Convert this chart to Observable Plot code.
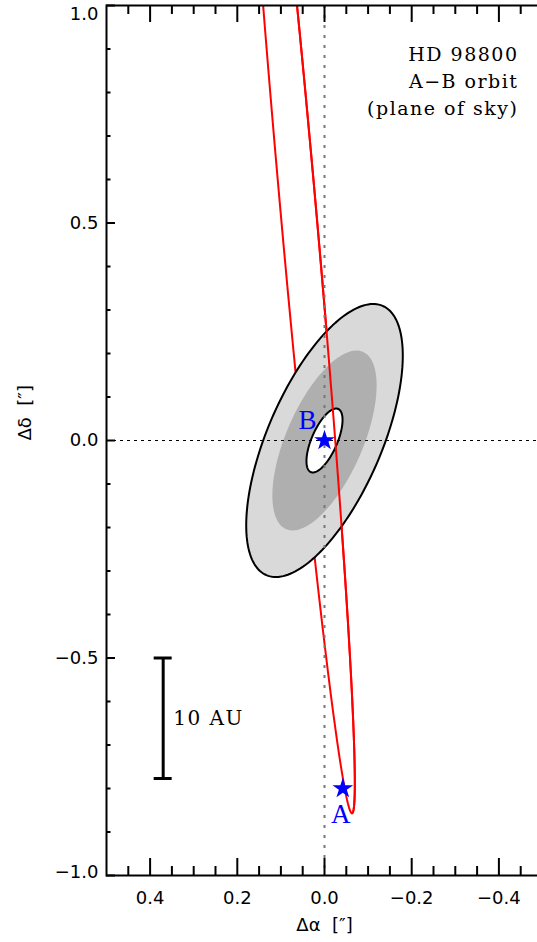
<!DOCTYPE html>
<html><head><meta charset="utf-8">
<script src="https://cdn.jsdelivr.net/npm/d3@7"></script>
<script src="https://cdn.jsdelivr.net/npm/@observablehq/plot@0.6"></script>
<style>html,body{margin:0;padding:0;overflow:hidden;background:#fff}</style>
</head><body><div id="chart"></div>
<script>
// ---- axis ticks ----
const xTicks = [0.4, 0.2, 0.0, -0.2, -0.4];
const xMinorTicks = [0.45, 0.35, 0.3, 0.25, 0.15, 0.1, 0.05, -0.05, -0.1, -0.15, -0.25, -0.3, -0.35, -0.45];
const yTicks = [1.0, 0.5, 0.0, -0.5, -1.0];
const yMinorTicks = [0.9, 0.8, 0.7, 0.6, 0.4, 0.3, 0.2, 0.1, -0.1, -0.2, -0.3, -0.4, -0.6, -0.7, -0.8, -0.9];

// ---- error ellipses (centred on B), semi-axes in arcsec, tilt of major axis (deg W of N) ----
const ellipseNames = ["outer", "middle", "inner"];
const ellipseSemiMajor = [0.337, 0.222, 0.079];
const ellipseSemiMinor = [0.131, 0.088, 0.0294];
const ellipseTilt = [23.3, 23.4, 23.4];

// ---- projected A–B orbit: centre, conjugate semi-diameters (arcsec) ----
const orbitCenter = [0.062, 0.551];
const orbitVertexOffset = [-0.125, -1.408];
const orbitHalfChord = [-0.041, 0];

// ---- stars ----
const starNames = ["A", "B"];
const starX = [-0.042, 0.0];
const starY = [-0.800, 0.0];

// ---- 10 AU scale bar ----
const scaleBarX = 0.37;
const scaleBarY = [-0.5, -0.777];
const scaleBarLabel = "10 AU";

// ---- build shapes ----
const angles = d3.range(0, 361, 2).map(d => d * Math.PI / 180);
const ellipses = ellipseNames.map((name, i) => {
  const a = ellipseSemiMajor[i], b = ellipseSemiMinor[i], th = ellipseTilt[i] * Math.PI / 180;
  return angles.map(t => ({
    name,
    x: a * Math.cos(t) * (-Math.sin(th)) + b * Math.sin(t) * Math.cos(th),
    y: a * Math.cos(t) * Math.cos(th) + b * Math.sin(t) * Math.sin(th)
  }));
});
const orbitPoint = t => ({
  t,
  x: orbitCenter[0] + orbitVertexOffset[0] * Math.cos(t) + orbitHalfChord[0] * Math.sin(t),
  y: orbitCenter[1] + orbitVertexOffset[1] * Math.cos(t) + orbitHalfChord[1] * Math.sin(t)
});
const orbit = angles.map(orbitPoint);
const orbitFront = angles.filter(t => t <= Math.PI + 1e-9).map(orbitPoint); // western (right-hand) branch, drawn over the ellipses
const stars = starNames.map((name, i) => ({name, x: starX[i], y: starY[i]}));

const W = 542, H = 942, mL = 106, mR = 0, mT = 5, mB = 67;
const plotW = W - mL - mR, plotH = H - mT - mB;
const fmt = d3.format(".1f");
const capHalf = 9 / plotW;
const serif = "DejaVu Serif";

const chart = Plot.plot({
  width: W, height: H,
  marginLeft: mL, marginRight: mR, marginTop: mT, marginBottom: mB,
  x: {domain: [0.5, -0.5]},
  y: {domain: [-1, 1]},
  style: {fontFamily: "DejaVu Sans", fontSize: "18px", maxWidth: "none", background: "#fff"},
  marks: [
    Plot.line(orbit, {x: "x", y: "y", curve: "linear-closed", stroke: "red", strokeWidth: 2, clip: true}),
    Plot.line(ellipses[0], {x: "x", y: "y", curve: "linear-closed", fill: "#d9d9d9", stroke: "black", strokeWidth: 2}),
    Plot.line(ellipses[1], {x: "x", y: "y", curve: "linear-closed", fill: "#afafaf", stroke: "none"}),
    Plot.line(ellipses[2], {x: "x", y: "y", curve: "linear-closed", fill: "white", stroke: "black", strokeWidth: 2}),
    Plot.line(orbitFront, {x: "x", y: "y", stroke: "red", strokeWidth: 2, clip: true}),
    Plot.ruleY([0], {stroke: "black", strokeWidth: 1.2, strokeDasharray: "3,4"}),
    Plot.ruleX([0], {stroke: "#777", strokeWidth: 2, strokeDasharray: "3,7"}),
    Plot.dot(stars, {x: "x", y: "y", symbol: "star", r: 6.5, fill: "blue", stroke: "none"}),
    Plot.text(stars.filter(d => d.name === "B"), {x: "x", y: "y", text: "name", dx: -17, dy: -20, fill: "blue", fontFamily: "Liberation Serif", fontSize: 27}),
    Plot.text(stars.filter(d => d.name === "A"), {x: "x", y: "y", text: "name", dx: -2, dy: 26, fill: "blue", fontFamily: "Liberation Serif", fontSize: 27}),
    // scale bar
    Plot.ruleX([scaleBarX], {y1: scaleBarY[0], y2: scaleBarY[1], stroke: "black", strokeWidth: 3}),
    Plot.ruleY(scaleBarY, {x1: scaleBarX + capHalf, x2: scaleBarX - capHalf, stroke: "black", strokeWidth: 3}),
    Plot.text([scaleBarLabel], {x: scaleBarX, y: (scaleBarY[0] + scaleBarY[1]) / 2, text: d => d, dx: 10, textAnchor: "start", fontFamily: serif, fontSize: 20}),
    // annotation
    Plot.text(["HD 98800\nA\u2212B orbit\n(plane of sky)"], {frameAnchor: "top-right", text: d => d, dx: -24, dy: 36, textAnchor: "end", lineAnchor: "top", lineHeight: 1.42, fontFamily: serif, fontSize: 19}),
    // frame and inward ticks
    Plot.frame({stroke: "black", strokeWidth: 2}),
    Plot.tickX(xTicks, {x: d => d, insetTop: plotH - 17, stroke: "black", strokeWidth: 2}),
    Plot.tickX(xTicks, {x: d => d, insetBottom: plotH - 17, stroke: "black", strokeWidth: 2}),
    Plot.tickX(xMinorTicks, {x: d => d, insetTop: plotH - 9, stroke: "black", strokeWidth: 2}),
    Plot.tickX(xMinorTicks, {x: d => d, insetBottom: plotH - 9, stroke: "black", strokeWidth: 2}),
    Plot.tickY(yTicks, {y: d => d, insetRight: plotW - 9, stroke: "black", strokeWidth: 2}),
    Plot.tickY(yMinorTicks, {y: d => d, insetRight: plotW - 4.5, stroke: "black", strokeWidth: 2}),
    // tick labels
    Plot.axisX(xTicks, {anchor: "bottom", tickSize: 0, tickPadding: 16, tickFormat: fmt, label: null, fontSize: 18}),
    Plot.axisY(yTicks.filter(d => Math.abs(d) < 1), {anchor: "left", tickSize: 0, tickPadding: 8, tickFormat: fmt, label: null, fontSize: 18}),
    Plot.axisY([1.0], {anchor: "left", tickSize: 0, tickPadding: 8, tickFormat: fmt, label: null, fontSize: 18, dy: 9}),
    Plot.axisY([-1.0], {anchor: "left", tickSize: 0, tickPadding: 8, tickFormat: fmt, label: null, fontSize: 18, dy: -3}),
    // axis titles
    Plot.text(["\u0394\u03b1  [\u2033]"], {frameAnchor: "bottom", text: d => d, dy: 50, lineAnchor: "middle", fontSize: 18}),
    Plot.text(["\u0394\u03b4  [\u2033]"], {frameAnchor: "left", text: d => d, dx: -81, rotate: -90, lineAnchor: "middle", fontSize: 18})
  ]
});
chart.querySelectorAll('g[font-family="DejaVu Serif"]').forEach(g => g.setAttribute("letter-spacing", "1.5"));
document.getElementById("chart").appendChild(chart);
</script>
</body></html>
